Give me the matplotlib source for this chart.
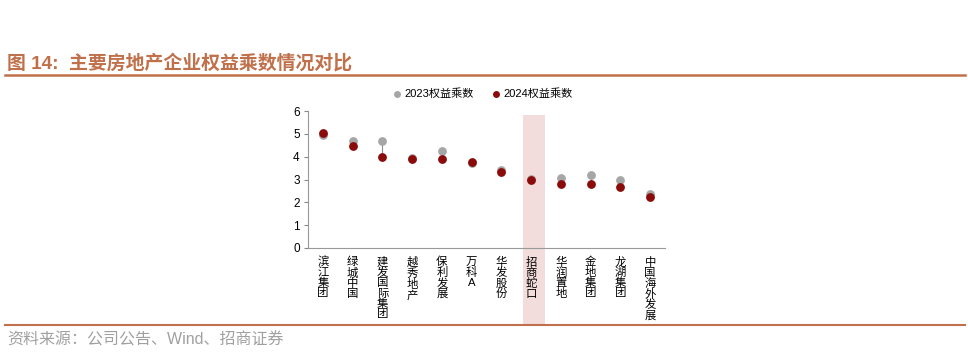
import matplotlib.pyplot as plt
from matplotlib.lines import Line2D
from matplotlib.patches import Rectangle
import matplotlib.transforms as mtransforms

plt.rcParams['font.family'] = ['Liberation Sans', 'Noto Sans CJK SC']

# --- Data ---
companies = ['滨江集团', '绿城中国', '建发国际集团', '越秀地产', '保利发展', '万科A',
             '华发股份', '招商蛇口', '华润置地', '金地集团', '龙湖集团', '中国海外发展']
ratio_2023 = [4.93, 4.69, 4.69, 3.92, 4.26, 3.74, 3.43, 3.04, 3.07, 3.18, 2.96, 2.35]
ratio_2024 = [5.03, 4.46, 4.00, 3.91, 3.90, 3.76, 3.32, 2.97, 2.82, 2.82, 2.69, 2.24]
highlight = '招商蛇口'

GREY = '#a6a6a6'
RED = '#8b0a0a'
BROWN = '#c0704a'

W, H = 968, 352
fig = plt.figure(figsize=(W / 100, H / 100), dpi=100)

def fx(px):
    return px / W

def fy(py):
    return 1 - py / H

# title and frame lines
fig.text(fx(7), fy(63), '图 14:  主要房地产企业权益乘数情况对比', color=BROWN,
         fontsize=13.6, fontweight='bold', va='center', ha='left')
fig.add_artist(Line2D([fx(5), fx(965)], [fy(75), fy(75)], color=BROWN, lw=1.8))
fig.add_artist(Line2D([fx(5), fx(965)], [fy(325), fy(325)], color=BROWN, lw=1.5))
fig.text(fx(7), fy(340), '资料来源：公司公告、Wind、招商证券', color='#a0a0a0',
         fontsize=11.5, fontweight='light', va='center', ha='left')

ax = fig.add_axes([fx(308), fy(248), fx(665) - fx(308), fy(111) - fy(248)])
x = list(range(len(companies)))

# highlight band
hi = companies.index(highlight)
trans = mtransforms.blended_transform_factory(ax.transData, ax.transAxes)
ax.add_patch(Rectangle((hi - 0.27, -0.56), 0.74, 1.53, transform=trans,
                       facecolor='#f2dcdc', edgecolor='none', clip_on=False, zorder=0))

# connectors
for i in x:
    ax.plot([i, i], [ratio_2023[i], ratio_2024[i]], color='#8c8c8c', lw=0.8, zorder=1)

ax.scatter(x, ratio_2023, s=28, color=GREY, zorder=2, label='2023权益乘数')
ax.scatter(x, ratio_2024, s=28, color=RED, zorder=3, label='2024权益乘数')

ax.set_xlim(-0.5, len(companies) - 0.5)
ax.set_ylim(0, 6)
ax.set_yticks(range(0, 7))
ax.tick_params(axis='y', labelsize=8.5, length=3, color='#888888', pad=3)
ax.set_xticks([])
for s in ['top', 'right']:
    ax.spines[s].set_visible(False)
for s in ['left', 'bottom']:
    ax.spines[s].set_color('#999999')
    ax.spines[s].set_linewidth(0.8)

# vertical category labels
for i, name in enumerate(companies):
    ax.text(i, -0.38, '\n'.join(name), transform=ax.transData, ha='center', va='top',
            fontsize=8.2, linespacing=1.0, clip_on=False)

ax.legend(loc='center', bbox_to_anchor=(0.48, (fy(94) - fy(248)) / (fy(111) - fy(248))),
          ncol=2, frameon=False, fontsize=8, handletextpad=-0.3, columnspacing=1.0,
          markerscale=0.75)

fig.savefig('out.png', dpi=100)
